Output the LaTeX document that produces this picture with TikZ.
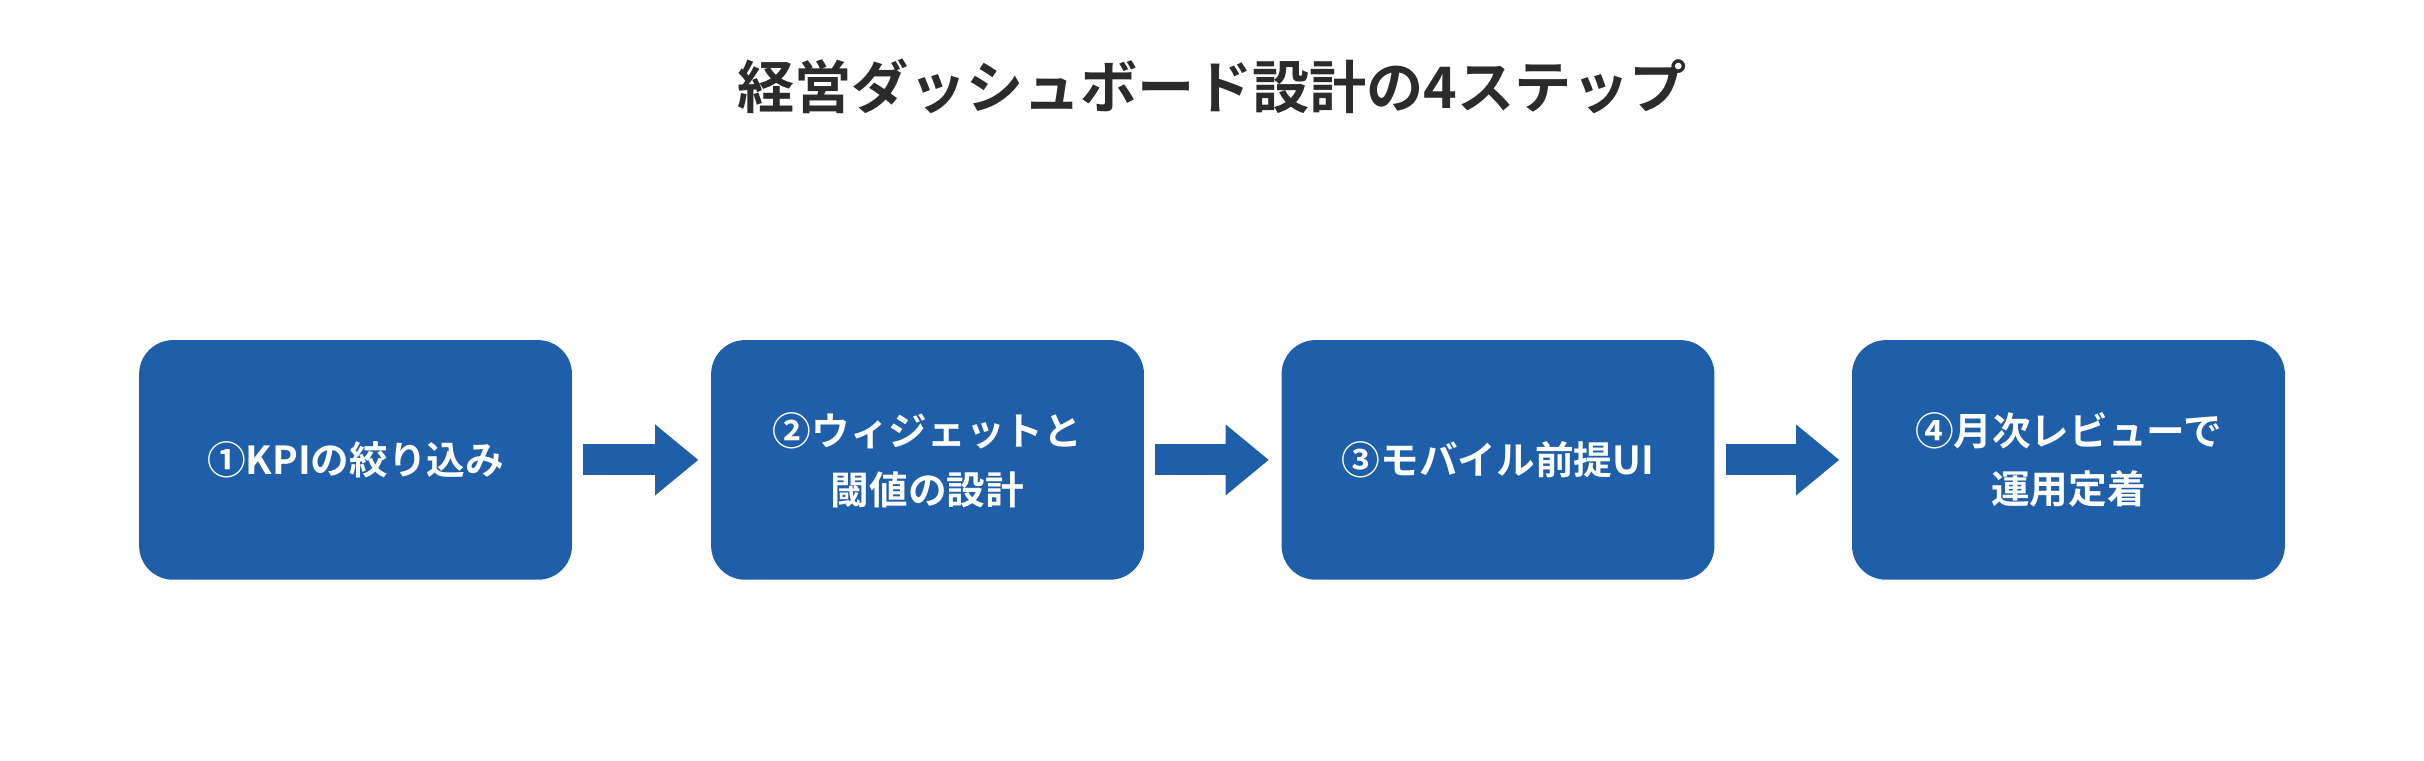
\documentclass[tikz,border=0pt]{standalone}
\usepackage{fontspec}
\setmainfont{Noto Sans CJK JP}[BoldFont={* Bold}]
\usetikzlibrary{positioning,arrows.meta}
\definecolor{stepblue}{HTML}{1F5EA8}
\definecolor{titlegray}{HTML}{2B2B2B}
\tikzset{stepbox/.style = {rectangle,rounded corners=22pt,fill=stepblue,draw=none,
    minimum width=280pt,minimum height=155pt,text=white,align=center,
    font=\fontsize{25}{38}\selectfont\bfseries}}
\tikzset{flow/.style = {draw=stepblue,line width=20pt,shorten <=7pt,shorten >=8pt,
    -{Triangle[width=44pt,length=28pt]}}}

\begin{document}
\begin{tikzpicture}[x=1pt,y=-1pt]
      \useasboundingbox (0,0) rectangle (1568,492);
      \node[text=titlegray,font=\fontsize{37}{40}\selectfont\bfseries] (title) at (784,56) {経営ダッシュボード設計の4ステップ};

      \node[stepbox] (s1) at (230,297.5) {①KPIの絞り込み};
      \node[stepbox] (s2) at (600,297.5) {②ウィジェットと\\閾値の設計};
      \node[stepbox] (s3) at (969,297.5) {③モバイル前提UI};
      \node[stepbox] (s4) at (1338,297.5) {④月次レビューで\\運用定着};

 \foreach \a/\b in {s1/s2,s2/s3,s3/s4}
   \draw[flow] (\a) -- (\b);

    \end{tikzpicture}
\end{document}
